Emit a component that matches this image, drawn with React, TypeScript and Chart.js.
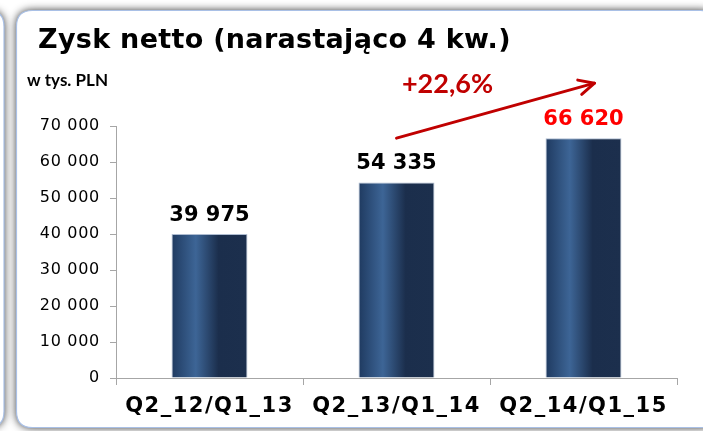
import React, { useEffect, useRef } from "react";
import { Chart, registerables } from "chart.js";

Chart.register(...registerables);

const categories = ["Q2_12/Q1_13", "Q2_13/Q1_14", "Q2_14/Q1_15"];
const values = [39975, 54335, 66620];
const valueLabelColors = ["#000000", "#000000", "#ff0000"];
const yMin = 0;
const yMax = 70000;
const yStep = 10000;
const titleText = "Zysk netto (narastająco 4 kw.)";
const unitText = "w tys. PLN";
const growthText = "+22,6%";
const arrowFromValue = 66620;
const arrowToValue = 81900;

const fmt = (v: number) => String(v).replace(/\B(?=(\d{3})+(?!\d))/g, " ");

function roundRect(ctx: CanvasRenderingContext2D, x: number, y: number, w: number, h: number, r: number) {
  ctx.beginPath();
  ctx.moveTo(x + r, y);
  ctx.lineTo(x + w - r, y);
  ctx.quadraticCurveTo(x + w, y, x + w, y + r);
  ctx.lineTo(x + w, y + h - r);
  ctx.quadraticCurveTo(x + w, y + h, x + w - r, y + h);
  ctx.lineTo(x + r, y + h);
  ctx.quadraticCurveTo(x, y + h, x, y + h - r);
  ctx.lineTo(x, y + r);
  ctx.quadraticCurveTo(x, y, x + r, y);
  ctx.closePath();
}

const framePlugin = {
  id: "frame",
  beforeDraw(chart: any) {
    const ctx = chart.ctx as any;
    ctx.save();
    ctx.fillStyle = "#ffffff";
    ctx.fillRect(0, 0, chart.width, chart.height);
    const panels = [
      [-700, 10.5, 704, 417, 16],
      [16.5, 10.5, 700, 417, 16],
    ];
    for (const p of panels) {
      ctx.save();
      ctx.shadowColor = "rgba(0,0,0,0.85)";
      ctx.shadowBlur = 8;
      roundRect(ctx, p[0], p[1], p[2], p[3], p[4]);
      ctx.fillStyle = "#ffffff";
      ctx.fill();
      ctx.restore();
      roundRect(ctx, p[0], p[1], p[2], p[3], p[4]);
      ctx.strokeStyle = "#a9c0e6";
      ctx.lineWidth = 1.2;
      ctx.stroke();
    }
    ctx.restore();
    // y-axis labels: slightly wider spacing (Verdana-like look)
    const ys = chart.scales.y;
    if (ys && !ys._spacingWrapped) {
      const orig = ys.drawLabels.bind(ys);
      ys.drawLabels = (area: any) => {
        const prev = ctx.letterSpacing;
        ctx.letterSpacing = "0.7px";
        orig(area);
        ctx.letterSpacing = prev;
      };
      ys._spacingWrapped = true;
    }
    // x-axis labels spacing
    ctx.letterSpacing = "1.5px";
  },
};

const labelPlugin = {
  id: "labels",
  afterDatasetsDraw(chart: any) {
    const ctx = chart.ctx as any;
    ctx.letterSpacing = "0px";
    const meta = chart.getDatasetMeta(0);
    ctx.save();
    ctx.font = "bold 21px 'DejaVu Sans'";
    ctx.textAlign = "center";
    ctx.textBaseline = "alphabetic";
    meta.data.forEach((el: any, i: number) => {
      ctx.fillStyle = valueLabelColors[i];
      ctx.fillText(fmt(values[i]), el.x, el.y - 13);
    });
    ctx.restore();
  },
  afterDraw(chart: any) {
    const ctx = chart.ctx as any;
    ctx.letterSpacing = "0px";
    const xs = chart.scales.x;
    const ys = chart.scales.y;
    ctx.save();
    ctx.fillStyle = "#000000";
    ctx.textAlign = "left";
    ctx.textBaseline = "alphabetic";
    ctx.font = "bold 27px 'DejaVu Sans'";
    ctx.letterSpacing = "0.3px";
    ctx.fillText(titleText, 38, 48);
    ctx.letterSpacing = "0px";
    ctx.font = "bold 17px Lato";
    ctx.fillText(unitText, 27, 86);

    // growth arrow
    const x1 = xs.getPixelForValue(1);
    const y1 = ys.getPixelForValue(arrowFromValue);
    const x2 = xs.getPixelForValue(2) + 11;
    const y2 = ys.getPixelForValue(arrowToValue);
    ctx.strokeStyle = "#c00000";
    ctx.lineWidth = 3;
    ctx.lineCap = "round";
    ctx.lineJoin = "round";
    ctx.beginPath();
    ctx.moveTo(x1, y1);
    ctx.lineTo(x2, y2);
    ctx.stroke();
    const ang = Math.atan2(y2 - y1, x2 - x1);
    const hl = 17;
    ctx.beginPath();
    ctx.moveTo(x2 - hl * Math.cos(ang - 0.45), y2 - hl * Math.sin(ang - 0.45));
    ctx.lineTo(x2, y2);
    ctx.lineTo(x2 - hl * Math.cos(ang + 0.45), y2 - hl * Math.sin(ang + 0.45));
    ctx.stroke();

    ctx.fillStyle = "#c00000";
    ctx.font = "bold 27px Lato";
    ctx.textAlign = "center";
    ctx.textBaseline = "middle";
    ctx.fillText(growthText, (x1 + x2) / 2 - 48, y2 + 1);
    ctx.restore();
  },
};

export default function App() {
  const ref = useRef<HTMLCanvasElement | null>(null);
  useEffect(() => {
    document.body.style.margin = "0";
    const canvas = ref.current!;
    const chart = new Chart(canvas, {
      type: "bar",
      data: {
        labels: categories,
        datasets: [
          {
            data: values,
            categoryPercentage: 1,
            barPercentage: 0.406,
            borderWidth: 1,
            borderColor: "rgba(140,160,190,0.7)",
            borderSkipped: "bottom",
            backgroundColor: (c: any) => {
              const ch = c.chart;
              const xs = ch.scales && ch.scales.x;
              if (!xs || !ch.chartArea) return "#243f66";
              const cw = xs.width / categories.length;
              const bw = cw * 0.406;
              const cx = xs.getPixelForValue(c.dataIndex);
              const g = ch.ctx.createLinearGradient(cx - bw / 2, 0, cx + bw / 2, 0);
              g.addColorStop(0, "#1f3a60");
              g.addColorStop(0.32, "#3d6596");
              g.addColorStop(0.62, "#1b2e4c");
              g.addColorStop(1, "#1c2f4d");
              return g;
            },
          },
        ],
      },
      options: {
        responsive: false,
        animation: false,
        layout: { padding: { left: 16, right: 26, top: 126, bottom: 0 } },
        plugins: {
          legend: { display: false },
          title: { display: false },
          tooltip: { enabled: false },
        },
        scales: {
          x: {
            afterFit: (s: any) => {
              s.height = 53;
            },
            grid: {
              offset: true,
              drawOnChartArea: false,
              drawTicks: true,
              tickLength: 7,
              color: "#a6a6a6",
            },
            border: { color: "#a6a6a6", width: 1 },
            ticks: {
              color: "#000000",
              padding: 9,
              font: { family: "'DejaVu Sans'", size: 21, weight: "bold" },
              maxRotation: 0,
              autoSkip: false,
            },
          },
          y: {
            min: yMin,
            max: yMax,
            afterFit: (s: any) => {
              s.width = 100;
            },
            grid: {
              drawOnChartArea: false,
              drawTicks: true,
              tickLength: 6,
              color: "#a6a6a6",
            },
            border: { color: "#a6a6a6", width: 1 },
            ticks: {
              stepSize: yStep,
              color: "#000000",
              padding: 10,
              font: { family: "'DejaVu Sans'", size: 16 },
              callback: (v: any) => fmt(Number(v)),
            },
          },
        },
      },
      plugins: [framePlugin, labelPlugin],
    });
    return () => chart.destroy();
  }, []);
  return (
    <div style={{ width: 703, height: 431 }}>
      <canvas ref={ref} width={703} height={431} style={{ display: "block" }} />
    </div>
  );
}
